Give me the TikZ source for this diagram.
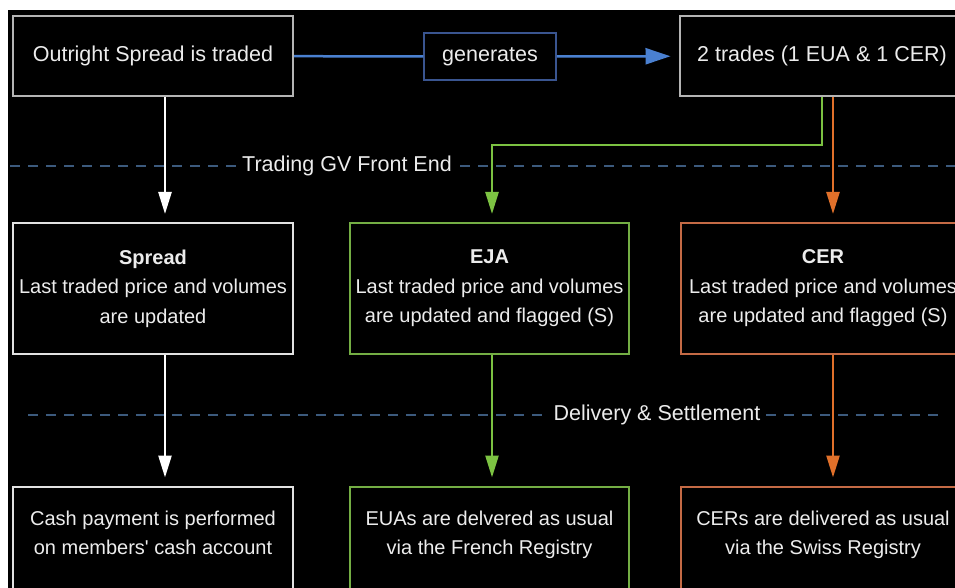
\documentclass[tikz,border=0pt]{standalone}
\usepackage{fontspec}
\setmainfont{Liberation Sans}
\usetikzlibrary{
	arrows.meta,
	calc,
	positioning
}

\definecolor{frameGrey}{HTML}{B4B4B4}
\definecolor{frameWhite}{HTML}{E2E2E2}
\definecolor{textWhite}{HTML}{ECECEC}
\definecolor{genBlue}{HTML}{3A5590}
\definecolor{flowBlue}{HTML}{4A80D0}
\definecolor{flowGreen}{HTML}{7CC242}
\definecolor{frameGreen}{HTML}{74AE44}
\definecolor{flowOrange}{HTML}{E0702A}
\definecolor{frameOrange}{HTML}{C46A45}
\definecolor{sepBlue}{HTML}{3C5A7D}

\begin{document}
\begin{tikzpicture}[x=1pt, y=-1pt,
		box/.style={draw, line width=2pt, text=textWhite, align=center, inner sep=0pt,
			font=\fontsize{20}{29.5}\selectfont, minimum height=80pt},
		topbox/.style={box, font=\fontsize{21.5}{26}\selectfont},
		tallbox/.style={box, minimum height=131pt},
		sepline/.style={draw=sepBlue, line width=1.2pt, dash pattern=on 10pt off 8pt},
		seplabel/.style={fill=black, text=textWhite, inner sep=5pt, font=\fontsize{21.5}{26}\selectfont},
		flow/.style={line width=2.5pt, shorten >=8pt, -{Triangle[length=22pt, width=13pt]}}
	]
		\useasboundingbox (0,0) rectangle (955,588);
		\clip (0,0) rectangle (955,588);
		\fill[white] (0,0) rectangle (955,588);
		\fill[black] (8,10) rectangle (955,588);

		% separators
		\draw[sepline] (10,166) -- (955,166);
		\draw[sepline] (28,415) -- (942,415);
		\node[seplabel] (frontend) at (347,166) {Trading GV Front End};
		\node[seplabel] (settle) at (657,415) {Delivery \& Settlement};

		% top row
		\node[topbox, draw=frameGrey, minimum width=280pt] (traded) at (153,56) {Outright Spread is traded};
		\node[topbox, draw=genBlue, line width=1.5pt, minimum width=132pt, minimum height=47pt] (gen) at (490,56.5) {generates};
		\node[topbox, draw=frameGrey, minimum width=285pt] (trades) at (822,56) {2 trades (1 EUA \& 1 CER)};

		% trading row
		\node[tallbox, draw=frameWhite, minimum width=280pt] (spread) at (153,288.5)
			{\textbf{Spread}\\Last traded price and volumes\\are updated};
		\node[tallbox, draw=frameGreen, minimum width=279pt] (eja) at (489.5,288.5)
			{\textbf{EJA}\\Last traded price and volumes\\are updated and flagged (S)};
		\node[tallbox, draw=frameOrange, minimum width=284pt] (cer) at (823,288.5)
			{\textbf{CER}\\Last traded price and volumes\\are updated and flagged (S)};

		% delivery row
		\node[tallbox, draw=frameWhite, minimum width=280pt] (cash) at (153,552)
			{Cash payment is performed\\on members\textquotesingle\ cash account\\\strut};
		\node[tallbox, draw=frameGreen, minimum width=279pt] (french) at (489.5,552)
			{EUAs are delvered as usual\\via the French Registry\\\strut};
		\node[tallbox, draw=frameOrange, minimum width=284pt] (swiss) at (823,552)
			{CERs are delivered as usual\\via the Swiss Registry\\\strut};

		% connectors
		\draw[flowBlue, line width=2.5pt] (traded) -- (gen);
		\draw[flowBlue, flow, -{Triangle[length=25pt, width=16pt]}] (gen) -- (trades);
		\draw[white, flow] ([xshift=12pt]traded.south) -- ([xshift=12pt]spread.north);
		\draw[flowGreen, flow] (trades.south) -- ++(0,48) -| ([xshift=2.5pt]eja.north);
		\draw[flowOrange, flow] ([xshift=11pt]trades.south) -- ([xshift=10pt]cer.north);
		\draw[white, flow] ([xshift=12pt]spread.south) -- ([xshift=12pt]cash.north);
		\draw[flowGreen, flow] ([xshift=2.5pt]eja.south) -- ([xshift=2.5pt]french.north);
		\draw[flowOrange, flow] ([xshift=10pt]cer.south) -- ([xshift=10pt]swiss.north);
	\end{tikzpicture}
\end{document}
